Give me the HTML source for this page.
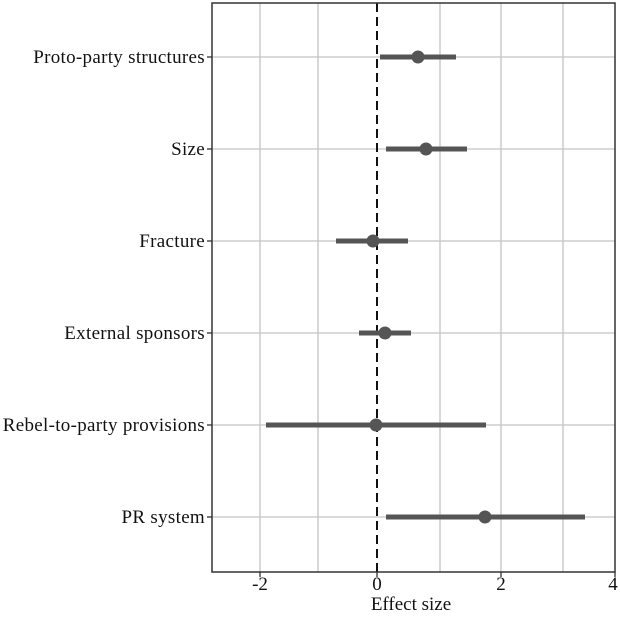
<!DOCTYPE html>
<html><head><meta charset="utf-8"><style>body{margin:0;background:#fff}</style></head><body>
<svg width="620" height="613" xmlns="http://www.w3.org/2000/svg" font-family="Liberation Serif, serif">
<rect x="0" y="0" width="620" height="613" fill="#fff"/>
<g stroke="#c4c4c4" stroke-width="1.3">
<line x1="260" y1="3" x2="260" y2="572"/><line x1="318" y1="3" x2="318" y2="572"/>
<line x1="440" y1="3" x2="440" y2="572"/><line x1="501" y1="3" x2="501" y2="572"/>
<line x1="563" y1="3" x2="563" y2="572"/>
<line x1="212" y1="57" x2="615" y2="57"/><line x1="212" y1="149" x2="615" y2="149"/>
<line x1="212" y1="241" x2="615" y2="241"/><line x1="212" y1="333" x2="615" y2="333"/>
<line x1="212" y1="425" x2="615" y2="425"/><line x1="212" y1="517" x2="615" y2="517"/>
</g>
<line x1="377" y1="3" x2="377" y2="572" stroke="#111" stroke-width="2" stroke-dasharray="9,5"/>
<g stroke="#555" stroke-width="5">
<line x1="380" y1="57" x2="456" y2="57"/><line x1="386" y1="149" x2="467" y2="149"/>
<line x1="336" y1="241" x2="408" y2="241"/><line x1="359" y1="333" x2="411" y2="333"/>
<line x1="266" y1="425" x2="486" y2="425"/><line x1="386" y1="517" x2="585" y2="517"/>
</g>
<g fill="#555">
<circle cx="418" cy="57" r="6.5"/><circle cx="426" cy="149" r="6.5"/>
<circle cx="373" cy="241" r="6.5"/><circle cx="385" cy="333" r="6.5"/>
<circle cx="376" cy="425" r="6.5"/><circle cx="485" cy="517" r="6.5"/>
</g>
<rect x="212" y="3" width="403" height="569" fill="none" stroke="#333" stroke-width="1.5"/>
<g stroke="#333" stroke-width="1.3">
<line x1="207" y1="57" x2="212" y2="57"/><line x1="207" y1="149" x2="212" y2="149"/>
<line x1="207" y1="241" x2="212" y2="241"/><line x1="207" y1="333" x2="212" y2="333"/>
<line x1="207" y1="425" x2="212" y2="425"/><line x1="207" y1="517" x2="212" y2="517"/>
<line x1="260" y1="572" x2="260" y2="577"/><line x1="377" y1="572" x2="377" y2="577"/>
<line x1="501" y1="572" x2="501" y2="577"/><line x1="615" y1="572" x2="615" y2="577"/>
</g>
<g font-size="19" fill="#111" text-anchor="end" letter-spacing="0.3">
<text x="205" y="63">Proto-party structures</text>
<text x="205" y="155">Size</text>
<text x="205" y="247">Fracture</text>
<text x="205" y="339">External sponsors</text>
<text x="205" y="431">Rebel-to-party provisions</text>
<text x="205" y="523">PR system</text>
</g>
<g font-size="19" fill="#111" text-anchor="middle">
<text x="260" y="590">-2</text><text x="377" y="590">0</text>
<text x="501" y="590">2</text><text x="613" y="590">4</text>
<text x="411" y="610">Effect size</text>
</g>
</svg>
</body></html>
